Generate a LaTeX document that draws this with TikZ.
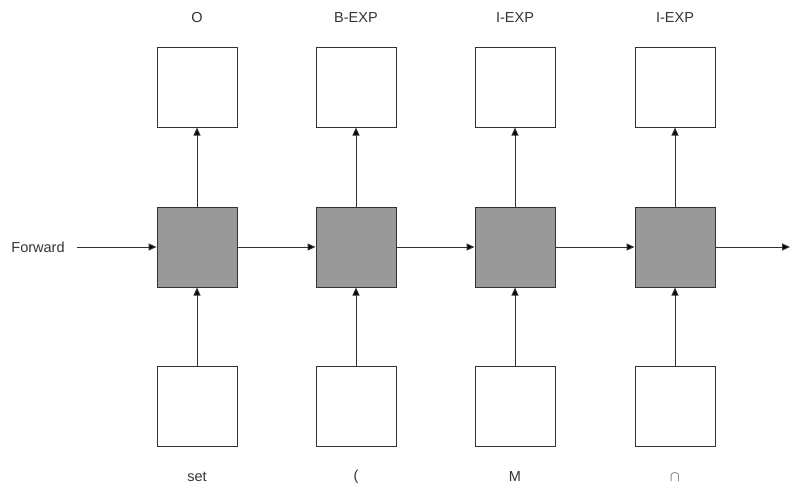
\documentclass[tikz,border=0pt]{standalone}
\usepackage{fontspec}
\setmainfont{Liberation Sans}
\usetikzlibrary{arrows.meta}
\definecolor{cellgray}{HTML}{999999}
\definecolor{linegray}{HTML}{333333}
\begin{document}
\begin{tikzpicture}[x=1pt,y=-1pt,
  font=\fontsize{14.5}{16}\selectfont,
  box/.style={draw=linegray, line width=1pt, minimum width=80pt, minimum height=80pt, inner sep=0pt, fill=white},
  cell/.style={box, fill=cellgray},
  lbl/.style={inner sep=0pt, text=black!80},
  conn/.style={draw=linegray, line width=1pt, -{Triangle[length=8pt,width=7pt,fill=black]}}]
  \useasboundingbox (0,0) rectangle (790,491);

  % columns: output box, hidden cell, input box, labels
  \foreach \i/\cx/\tag/\tok in {1/197/O/set, 2/356/B-EXP/(, 3/515/I-EXP/M, 4/675/I-EXP/$\cap$} {
    \node[box]  (out\i) at (\cx,87)  {};
    \node[cell] (h\i)   at (\cx,247) {};
    \node[box]  (in\i)  at (\cx,406) {};
    \node[lbl]  (t\i)   at (\cx,18)  {\tag};
    \node[lbl]  (w\i)   at (\cx,477) {\tok};
    \draw[conn] (h\i.north) -- (out\i.south);
    \draw[conn] (in\i.north) -- (h\i.south);
  }

  \node[lbl] (fw) at (38,247) {Forward};
  \coordinate (fwstart) at (77,247);
  \coordinate (fwend) at (790,247);
  \draw[conn] (fwstart) -- (h1.west);
  \draw[conn] (h1.east) -- (h2.west);
  \draw[conn] (h2.east) -- (h3.west);
  \draw[conn] (h3.east) -- (h4.west);
  \draw[conn] (h4.east) -- (fwend);
\end{tikzpicture}
\end{document}
